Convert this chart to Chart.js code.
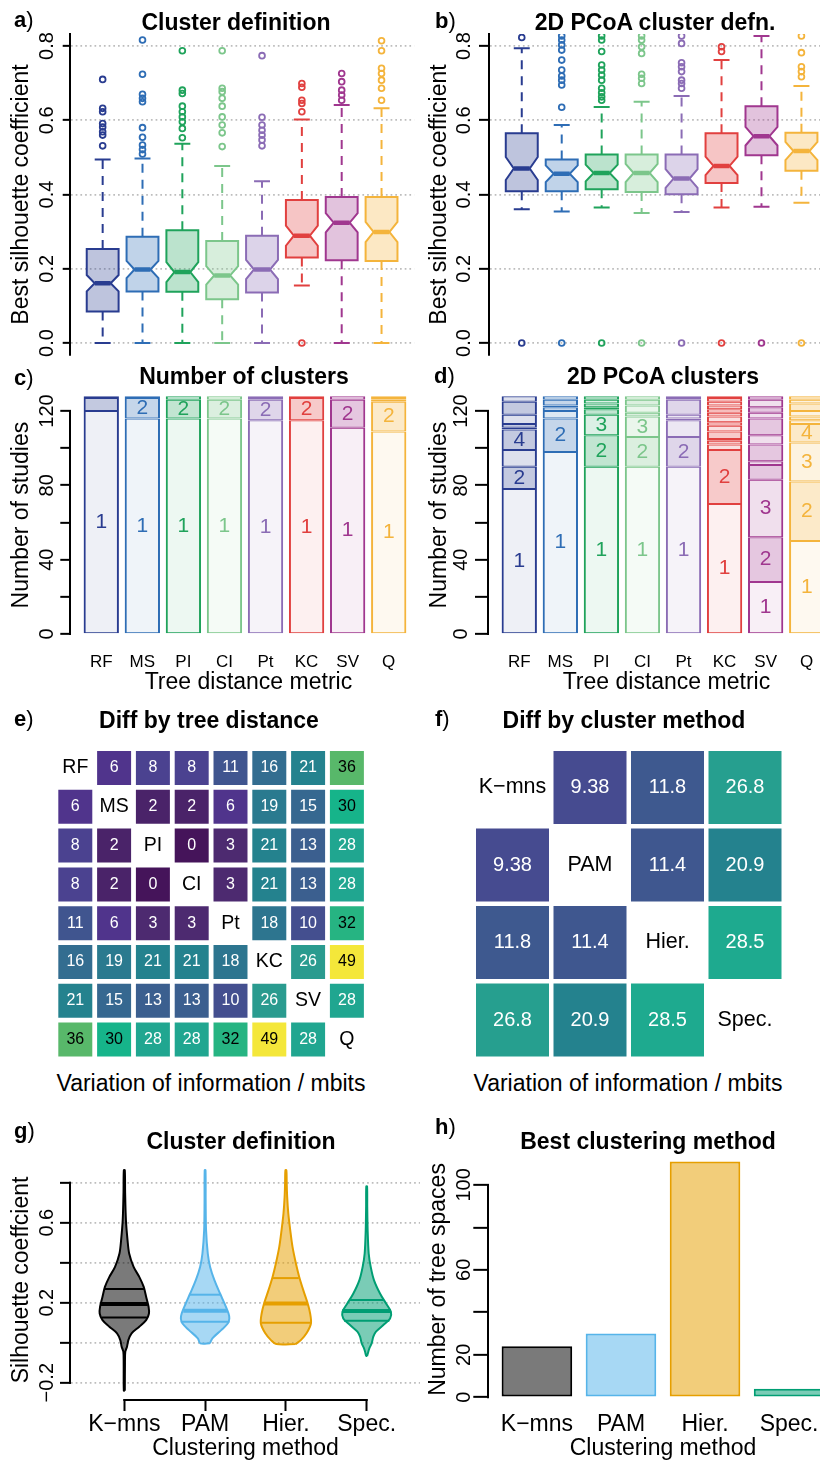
<!DOCTYPE html>
<html>
<head>
<meta charset="utf-8">
<script src="https://cdn.jsdelivr.net/npm/chart.js"></script>
<style>
  html, body { margin: 0; padding: 0; background: #fff; overflow: hidden; }
  #fig { position: relative; width: 820px; height: 1462px; overflow: hidden;
         font-family: 'Liberation Sans', Arial, sans-serif; color: #000; }
  #fig canvas { position: absolute; }
  .t { position: absolute; white-space: nowrap; line-height: 1; transform: translate(-50%, -50%); }
  .ttl { font-weight: bold; font-size: 23px; }
  .xt { font-size: 23px; }
  .lab { position: absolute; white-space: nowrap; line-height: 1; font-size: 22px; transform: translate(0, -50%); }
</style>
</head>
<body>
<div id="fig"></div>
<script>
// ---- categories & colours ----
const metrics = ['RF', 'MS', 'PI', 'CI', 'Pt', 'KC', 'SV', 'Q'];
const metricColours = ['#293c90', '#2e6db5', '#1fa35b', '#7cc68b', '#8b6cb5', '#e1403f', '#a0378f', '#f4b43c'];
const methods = ['K−mns', 'PAM', 'Hier.', 'Spec.'];
const methodColours = ['#000000', '#56b4e9', '#e69f00', '#009e73'];

// ---- a) cluster definition (boxplots) ----
const aTicks = [0, 0.2, 0.4, 0.6, 0.8];
const aLower = [0, 0, 0, 0, 0, 0.155, 0, 0];
const aQ1 = [0.085, 0.139, 0.138, 0.118, 0.136, 0.230, 0.223, 0.221];
const aMedian = [0.161, 0.198, 0.191, 0.182, 0.198, 0.289, 0.324, 0.299];
const aQ3 = [0.253, 0.286, 0.304, 0.275, 0.289, 0.385, 0.393, 0.393];
const aUpper = [0.494, 0.497, 0.537, 0.477, 0.436, 0.602, 0.641, 0.632];
const aNotch = [0.022, 0.023, 0.027, 0.025, 0.026, 0.027, 0.026, 0.027];
const aOutliers = [
  [0.531, 0.56, 0.569, 0.582, 0.591, 0.623, 0.632, 0.71],
  [0.509, 0.521, 0.533, 0.554, 0.58, 0.65, 0.659, 0.67, 0.724, 0.816],
  [0.553, 0.578, 0.596, 0.609, 0.623, 0.638, 0.672, 0.681, 0.787],
  [0.529, 0.566, 0.587, 0.609, 0.638, 0.659, 0.677, 0.686, 0.787],
  [0.531, 0.547, 0.56, 0.573, 0.587, 0.608, 0.774],
  [0, 0.623, 0.645, 0.654, 0.689, 0.699],
  [0.654, 0.668, 0.681, 0.704, 0.726],
  [0.654, 0.686, 0.708, 0.726, 0.74, 0.787, 0.814]
];

// ---- b) 2D PCoA cluster definition ----
const bLower = [0.360, 0.354, 0.365, 0.350, 0.353, 0.365, 0.367, 0.378];
const bQ1 = [0.409, 0.409, 0.414, 0.407, 0.401, 0.431, 0.506, 0.464];
const bMedian = [0.470, 0.456, 0.458, 0.458, 0.443, 0.477, 0.557, 0.517];
const bQ3 = [0.565, 0.494, 0.508, 0.508, 0.508, 0.565, 0.638, 0.566];
const bUpper = [0.794, 0.587, 0.636, 0.650, 0.665, 0.762, 0.827, 0.692];
const bNotch = [0.031, 0.0225, 0.0225, 0.0245, 0.025, 0.025, 0.025, 0.0245];
const bOutliers = [
  [0, 0.823],
  [0, 0.635, 0.695, 0.708, 0.719, 0.735, 0.762, 0.789, 0.803, 0.816, 0.827],
  [0, 0.654, 0.663, 0.674, 0.686, 0.708, 0.722, 0.735, 0.749, 0.785, 0.816, 0.827],
  [0, 0.699, 0.713, 0.724, 0.78, 0.798, 0.816, 0.827],
  [0, 0.686, 0.699, 0.708, 0.731, 0.744, 0.755, 0.807, 0.827],
  [0, 0.785, 0.798],
  [0],
  [0, 0.717, 0.731, 0.744, 0.782, 0.827]
];

// ---- c) / d) studies per number of clusters (bottom segment = 1 cluster) ----
const studyTicks = [0, 20, 40, 60, 80, 100, 120];
const studyLabelled = [0, 40, 80, 120];
const cCounts = [
  [120, 7, 1], [116, 11, 1], [116, 10, 2], [116, 10, 2],
  [115, 11, 1, 1], [115, 12, 1], [111, 15, 2], [109, 16, 1, 1, 1]
];
const dCounts = [
  [78, 12, 9, 11, 1, 2, 5, 7, 3],
  [98, 18, 4, 2, 1, 3, 2],
  [90, 17, 11, 3, 1, 2, 2, 2],
  [90, 16, 11, 2, 4, 3, 2],
  [90, 16, 9, 1, 2, 8, 1, 1],
  [70, 29, 3, 2, 1, 4, 3, 2, 3, 2, 2, 2, 2, 2, 1],
  [28, 24, 31, 8, 2, 9, 5, 9, 3, 3, 4, 2],
  [50, 32, 21, 10, 2, 2, 3, 4, 2, 2]
];
const minLabelled = 10;

// ---- e) / f) variation of information (mbits) ----
const eMatrix = [
  [null, 6, 8, 8, 11, 16, 21, 36],
  [6, null, 2, 2, 6, 19, 15, 30],
  [8, 2, null, 0, 3, 21, 13, 28],
  [8, 2, 0, null, 3, 21, 13, 28],
  [11, 6, 3, 3, null, 18, 10, 32],
  [16, 19, 21, 21, 18, null, 26, 49],
  [21, 15, 13, 13, 10, 26, null, 28],
  [36, 30, 28, 28, 32, 49, 28, null]
];
const fMatrix = [
  [null, 9.38, 11.8, 26.8],
  [9.38, null, 11.4, 20.9],
  [11.8, 11.4, null, 28.5],
  [26.8, 20.9, 28.5, null]
];

// ---- g) violins: outline heights and half-widths (category units) ----
const gTicks = [-0.2, 0, 0.2, 0.4, 0.6, 0.8];
const gLabelled = [-0.2, 0.2, 0.6];
const gViolinY = [
  [-0.24, -0.10, -0.045, -0.02, 0.013, 0.047, 0.08, 0.113, 0.146, 0.18, 0.23, 0.279, 0.329, 0.379, 0.446, 0.512, 0.612, 0.75, 0.862],
  [-0.003, 0.022, 0.063, 0.096, 0.121, 0.146, 0.196, 0.246, 0.313, 0.379, 0.446, 0.562, 0.70, 0.862],
  [-0.007, 0.013, 0.047, 0.096, 0.146, 0.196, 0.263, 0.329, 0.396, 0.479, 0.562, 0.645, 0.728, 0.80, 0.862],
  [-0.066, -0.045, -0.028, -0.003, 0.03, 0.055, 0.088, 0.121, 0.155, 0.196, 0.246, 0.313, 0.379, 0.446, 0.562, 0.68, 0.781]
];
const gViolinW = [
  [0.006, 0.008, 0.012, 0.033, 0.05, 0.09, 0.185, 0.27, 0.305, 0.30, 0.27, 0.24, 0.185, 0.115, 0.06, 0.04, 0.02, 0.01, 0.006],
  [0.06, 0.09, 0.2, 0.28, 0.30, 0.29, 0.24, 0.185, 0.115, 0.062, 0.033, 0.012, 0.007, 0.005],
  [0.12, 0.185, 0.255, 0.31, 0.30, 0.27, 0.215, 0.165, 0.124, 0.082, 0.054, 0.03, 0.016, 0.01, 0.006],
  [0.006, 0.02, 0.033, 0.062, 0.082, 0.115, 0.206, 0.29, 0.30, 0.24, 0.165, 0.09, 0.05, 0.025, 0.012, 0.007, 0.005]
];
const gQ1 = [0.126, 0.105, 0.10, 0.11];
const gQ1W = [0.28, 0.30, 0.305, 0.28];
const gMedian = [0.193, 0.16, 0.196, 0.158];
const gMedianW = [0.29, 0.27, 0.27, 0.30];
const gQ3 = [0.268, 0.24, 0.323, 0.213];
const gQ3W = [0.25, 0.19, 0.16, 0.206];

// ---- h) best clustering method ----
const hTicks = [0, 20, 40, 60, 80, 100];
const hLabelled = [0, 20, 60, 100];
const hCounts = [24, 30, 111, 4];

// colour stops for the heat maps (value -> rgb)
const heatStops = [
  [0, [69, 20, 90]], [3, [77, 42, 112]], [6, [80, 52, 140]], [8, [75, 66, 144]],
  [11, [64, 85, 143]], [13, [59, 95, 143]], [16, [51, 109, 144]], [21, [36, 130, 142]],
  [26, [42, 155, 143]], [28, [32, 166, 144]], [30, [22, 180, 138]], [32, [38, 180, 130]],
  [36, [88, 184, 106]], [49, [244, 231, 58]]
];

const FONT = "'Liberation Sans', Arial, sans-serif";
Chart.defaults.font.family = FONT;
Chart.defaults.color = '#000';
Chart.defaults.animation = false;
Chart.defaults.responsive = false;
Chart.defaults.events = [];
Chart.defaults.plugins.legend.display = false;
Chart.defaults.plugins.tooltip.enabled = false;

const fig = document.getElementById('fig');

function addCanvas(left, top, width, height) {
  const cv = document.createElement('canvas');
  cv.width = width;
  cv.height = height;
  Object.assign(cv.style, { left: left + 'px', top: top + 'px', width: width + 'px', height: height + 'px' });
  fig.appendChild(cv);
  return cv;
}

function addText(html, x, y, cls) {
  const d = document.createElement('div');
  d.className = cls;
  d.innerHTML = html;
  d.style.left = x + 'px';
  d.style.top = y + 'px';
  fig.appendChild(d);
}

function alpha(hex, a) {
  const n = parseInt(hex.slice(1), 16);
  return `rgba(${n >> 16}, ${(n >> 8) & 255}, ${n & 255}, ${a})`;
}

function heatColour(v) {
  let i = 0;
  while (i < heatStops.length - 2 && v > heatStops[i + 1][0]) i++;
  const [v0, c0] = heatStops[i];
  const [v1, c1] = heatStops[i + 1];
  const t = Math.min(1, Math.max(0, (v - v0) / (v1 - v0)));
  return 'rgb(' + c0.map((c, k) => Math.round(c + (c1[k] - c) * t)).join(',') + ')';
}

const near = (list, v) => list.some(s => Math.abs(s - v) < 1e-9);

// R-style left axis: rotated tick labels, optional dotted grid
function leftAxis(o) {
  return {
    type: 'linear', position: 'left', min: o.min, max: o.max,
    afterBuildTicks: s => { s.ticks = o.ticks.map(v => ({ value: v })); },
    afterFit: s => { s.width = o.width; },
    ticks: {
      autoSkip: false, minRotation: 90, maxRotation: 90, crossAlign: 'center',
      padding: o.pad, font: { size: 20 }, color: '#000',
      callback: v => (near(o.shown, v) ? o.fmt(v) : '')
    },
    grid: {
      display: true, drawOnChartArea: !!o.dots, drawTicks: true,
      tickLength: o.tickLen, tickWidth: 2, tickColor: '#000',
      color: '#bdbdbd', lineWidth: 1.7
    },
    border: { display: !!o.fullLine, width: 2, color: '#000', dash: [1.7, 3] },
    title: { display: true, text: o.title, font: { size: 23 }, padding: { top: o.titlePad, bottom: 0 } }
  };
}

function bottomAxis(o) {
  return {
    type: 'linear', position: 'bottom', min: o.min, max: o.max, offset: false,
    afterBuildTicks: s => { s.ticks = o.labels.map((_, i) => ({ value: i + o.first })); },
    afterFit: s => { s.height = o.height; },
    ticks: {
      autoSkip: false, minRotation: 0, maxRotation: 0, padding: o.pad,
      font: { size: o.size }, color: '#000', callback: (v, i) => o.labels[i]
    },
    grid: {
      display: !!o.tickLen, offset: false, drawOnChartArea: false, drawTicks: !!o.tickLen,
      tickLength: o.tickLen || 0, tickWidth: 2, tickColor: '#000'
    },
    border: { display: false },
    title: { display: true, text: o.title, font: { size: 23 }, padding: { top: 0, bottom: 0 } }
  };
}

// axis lines that run from first to last tick, as R draws them
function rAxisLines(yRange, xRange) {
  return {
    id: 'rAxisLines',
    afterDraw(chart) {
      const { ctx, chartArea: ca, scales: { x, y } } = chart;
      ctx.save();
      ctx.strokeStyle = '#000';
      ctx.lineWidth = 2;
      ctx.lineCap = 'square';
      ctx.beginPath();
      if (yRange) {
        ctx.moveTo(ca.left - 1, y.getPixelForValue(yRange[0]));
        ctx.lineTo(ca.left - 1, y.getPixelForValue(yRange[1]));
      }
      if (xRange) {
        ctx.moveTo(x.getPixelForValue(xRange[0]), ca.bottom + 1);
        ctx.lineTo(x.getPixelForValue(xRange[1]), ca.bottom + 1);
      }
      ctx.stroke();
      ctx.restore();
    }
  };
}

function notchedBoxes(s) {
  return {
    id: 'notchedBoxes',
    beforeDatasetsDraw(chart) {
      const { ctx, chartArea: ca, scales: { x, y } } = chart;
      const py = v => y.getPixelForValue(v);
      ctx.save();
      ctx.beginPath();
      ctx.rect(ca.left, ca.top, ca.right - ca.left, ca.bottom - ca.top);
      ctx.clip();
      s.median.forEach((med, i) => {
        const col = metricColours[i];
        const cx = x.getPixelForValue(i + 1);
        const hw = x.getPixelForValue(i + 1.4) - cx;
        ctx.strokeStyle = col;
        ctx.lineWidth = 2;
        // whiskers
        ctx.setLineDash([9, 7]);
        ctx.beginPath();
        ctx.moveTo(cx, py(s.q3[i])); ctx.lineTo(cx, py(s.upper[i]));
        ctx.moveTo(cx, py(s.q1[i])); ctx.lineTo(cx, py(s.lower[i]));
        ctx.stroke();
        ctx.setLineDash([]);
        ctx.beginPath();
        ctx.moveTo(cx - hw / 2, py(s.upper[i])); ctx.lineTo(cx + hw / 2, py(s.upper[i]));
        ctx.moveTo(cx - hw / 2, py(s.lower[i])); ctx.lineTo(cx + hw / 2, py(s.lower[i]));
        ctx.stroke();
        // notched box
        const lo = py(med - s.notch[i]), hi = py(med + s.notch[i]), m = py(med);
        ctx.beginPath();
        ctx.moveTo(cx - hw, py(s.q1[i]));
        ctx.lineTo(cx - hw, lo); ctx.lineTo(cx - hw / 2, m); ctx.lineTo(cx - hw, hi);
        ctx.lineTo(cx - hw, py(s.q3[i])); ctx.lineTo(cx + hw, py(s.q3[i]));
        ctx.lineTo(cx + hw, hi); ctx.lineTo(cx + hw / 2, m); ctx.lineTo(cx + hw, lo);
        ctx.lineTo(cx + hw, py(s.q1[i]));
        ctx.closePath();
        ctx.fillStyle = alpha(col, 0.3);
        ctx.fill();
        ctx.stroke();
        // median
        ctx.lineWidth = 4.5;
        ctx.beginPath();
        ctx.moveTo(cx - hw / 2, m); ctx.lineTo(cx + hw / 2, m);
        ctx.stroke();
      });
      ctx.restore();
    }
  };
}

function segmentLabels() {
  return {
    id: 'segmentLabels',
    afterDatasetsDraw(chart) {
      const ctx = chart.ctx;
      ctx.save();
      ctx.font = '21px ' + FONT;
      ctx.textAlign = 'center';
      ctx.textBaseline = 'middle';
      chart.data.datasets.forEach((ds, k) => {
        chart.getDatasetMeta(k).data.forEach((bar, j) => {
          const p = ds.data[j];
          if (p.y < minLabelled) return;
          ctx.fillStyle = metricColours[p.x];
          ctx.fillText(String(k + 1), bar.x, (bar.y + bar.base) / 2);
        });
      });
      ctx.restore();
    }
  };
}

function cellLabels(names, numSize, nameSize) {
  return {
    id: 'cellLabels',
    afterDatasetsDraw(chart) {
      const { ctx, scales: { x, y } } = chart;
      ctx.save();
      ctx.textAlign = 'center';
      ctx.textBaseline = 'middle';
      ctx.font = numSize + 'px ' + FONT;
      chart.data.datasets.forEach((ds, r) => {
        chart.getDatasetMeta(r).data.forEach((bar, j) => {
          const v = ds.data[j].v;
          ctx.fillStyle = v >= 29.5 ? '#000' : '#fff';
          ctx.fillText(String(v), bar.x, (bar.y + bar.base) / 2);
        });
      });
      ctx.font = nameSize + 'px ' + FONT;
      ctx.fillStyle = '#000';
      names.forEach((n, i) => ctx.fillText(n, x.getPixelForValue(i), y.getPixelForValue(i)));
      ctx.restore();
    }
  };
}

function outlierPoints(out) {
  return out.flatMap((vals, i) => vals.map(v => ({ x: i + 1, y: v })));
}

function boxPanel(canvas, stats, outliers, axis) {
  const pts = outlierPoints(outliers);
  return new Chart(canvas, {
    type: 'scatter',
    data: {
      datasets: [{
        data: pts, pointRadius: 2.9, pointBorderWidth: 1.8,
        pointBackgroundColor: 'rgba(0,0,0,0)',
        pointBorderColor: pts.map(p => metricColours[p.x - 1])
      }]
    },
    options: {
      devicePixelRatio: 1,
      layout: { padding: axis.padding },
      scales: {
        x: { type: 'linear', display: false, min: 0.18, max: 8.82 },
        y: leftAxis({
          min: -0.0323, max: 0.8323, ticks: aTicks, shown: aTicks, fmt: v => v.toFixed(1),
          width: 70, tickLen: axis.tickLen, pad: axis.pad, titlePad: axis.titlePad,
          title: 'Best silhouette coefficient', dots: true, fullLine: true
        })
      }
    },
    plugins: [notchedBoxes(stats)]
  });
}

function stackDatasets(counts) {
  const depth = Math.max(...counts.map(c => c.length));
  const sets = [];
  for (let k = 0; k < depth; k++) {
    const pts = [], bg = [], bd = [];
    counts.forEach((c, i) => {
      if (k >= c.length) return;
      pts.push({ x: i, y: c[k] });
      bg.push(alpha(metricColours[i], k === 0 ? 0.08 : (k % 2 ? 0.28 : 0.16)));
      bd.push(metricColours[i]);
    });
    sets.push({
      data: pts, backgroundColor: bg, borderColor: bd,
      borderWidth: { left: 2, right: 2, top: 1, bottom: 1 }, borderSkipped: false,
      barPercentage: 0.86, categoryPercentage: 1
    });
  }
  return sets;
}

function stackPanel(canvas, counts, axis) {
  return new Chart(canvas, {
    type: 'bar',
    data: { datasets: stackDatasets(counts) },
    options: {
      devicePixelRatio: 1,
      layout: { padding: { left: 0, top: 26.7, right: 4.2, bottom: 3.5 } },
      scales: {
        x: Object.assign(bottomAxis({
          min: -0.737, max: 7.903, labels: metrics, first: 0, height: 53, pad: 8.3, size: 17,
          title: 'Tree distance metric'
        }), { stacked: true }),
        y: Object.assign(leftAxis({
          min: -5.11, max: 133.08, ticks: studyTicks, shown: studyLabelled, fmt: v => String(v),
          width: 71, tickLen: axis.tickLen, pad: axis.pad, titlePad: axis.titlePad,
          title: 'Number of studies'
        }), { stacked: true })
      }
    },
    plugins: [segmentLabels(), rAxisLines([studyTicks[0], studyTicks[studyTicks.length - 1]])]
  });
}

function heatDatasets(matrix, frac) {
  return matrix.map((row, r) => {
    const pts = [];
    row.forEach((v, c) => { if (v !== null) pts.push({ x: c, y: [r - frac / 2, r + frac / 2], v }); });
    return {
      data: pts, backgroundColor: pts.map(p => heatColour(p.v)), borderWidth: 0,
      grouped: false, barPercentage: frac, categoryPercentage: 1
    };
  });
}

function heatPanel(canvas, matrix, names, frac, padding, numSize, nameSize) {
  const n = names.length;
  return new Chart(canvas, {
    type: 'bar',
    data: { datasets: heatDatasets(matrix, frac) },
    options: {
      devicePixelRatio: 1,
      layout: { padding },
      scales: {
        x: {
          type: 'linear', display: false, min: -0.5, max: n - 0.5, offset: false,
          afterBuildTicks: s => { s.ticks = names.map((_, i) => ({ value: i })); }
        },
        y: {
          type: 'linear', display: false, min: -0.5, max: n - 0.5, reverse: true,
          afterBuildTicks: s => { s.ticks = names.map((_, i) => ({ value: i })); }
        }
      }
    },
    plugins: [cellLabels(names, numSize, nameSize)]
  });
}

// ---------- a ----------
boxPanel(addCanvas(0, 0, 420, 380),
  { lower: aLower, q1: aQ1, median: aMedian, q3: aQ3, upper: aUpper, notch: aNotch },
  aOutliers, { padding: { left: 0, top: 34, right: 0, bottom: 25 }, tickLen: 7.3, pad: 1.2, titlePad: 7.9 });

// ---------- b ----------
boxPanel(addCanvas(419, 0, 421, 380),
  { lower: bLower, q1: bQ1, median: bMedian, q3: bQ3, upper: bUpper, notch: bNotch },
  bOutliers, { padding: { left: 0, top: 34, right: 1, bottom: 25 }, tickLen: 10, pad: 0.8, titlePad: 7.2 });

// ---------- c / d ----------
stackPanel(addCanvas(0, 360, 430, 340), cCounts, { tickLen: 10.7, pad: -3.4, titlePad: 7.9 });
stackPanel(addCanvas(418, 360, 430, 340), dCounts, { tickLen: 14, pad: -2.7, titlePad: 8.2 });

// ---------- e / f ----------
heatPanel(addCanvas(0, 740, 410, 320), eMatrix, metrics, 0.876,
  { left: 55.9, top: 8.6, right: 43.7, bottom: 1 }, 16, 19.5);
heatPanel(addCanvas(410, 740, 410, 320), fMatrix, methods, 0.942,
  { left: 63.75, top: 8.75, right: 36.25, bottom: 1.25 }, 20, 21.5);

// ---------- g ----------
function violinOutline(centre, ys, ws) {
  const right = ys.map((y, i) => ({ x: centre + ws[i], y }));
  const left = ys.map((y, i) => ({ x: centre - ws[i], y })).reverse();
  return [...right, ...left, right[0]];
}
const gSets = methods.map((m, i) => ({
  data: violinOutline(i + 1, gViolinY[i], gViolinW[i]),
  borderColor: methodColours[i], borderWidth: 2, backgroundColor: alpha(methodColours[i], 0.52),
  fill: 'shape', pointRadius: 0, tension: 0.3
}));
[[gQ1, gQ1W, 2], [gQ3, gQ3W, 2], [gMedian, gMedianW, 4]].forEach(([ys, ws, lw]) => {
  methods.forEach((m, i) => {
    gSets.push({
      data: [{ x: i + 1 - ws[i], y: ys[i] }, { x: i + 1 + ws[i], y: ys[i] }],
      borderColor: methodColours[i], borderWidth: lw, pointRadius: 0, fill: false
    });
  });
});
new Chart(addCanvas(0, 1140, 430, 322), {
  type: 'line',
  data: { datasets: gSets },
  options: {
    devicePixelRatio: 1,
    layout: { padding: { left: 0, top: 21, right: 10, bottom: 0 } },
    scales: {
      x: bottomAxis({
        min: 0.34, max: 4.66, labels: methods, first: 1, height: 63, pad: 0.2, size: 23,
        tickLen: 12, title: 'Clustering method'
      }),
      y: leftAxis({
        min: -0.2815, max: 0.9085, ticks: gTicks, shown: gLabelled,
        fmt: v => (v < 0 ? '−' : '') + Math.abs(v).toFixed(1),
        width: 71, tickLen: 11, pad: -7, titlePad: 7.9, title: 'Silhouette coeffcient', dots: true
      })
    }
  },
  plugins: [rAxisLines([gTicks[0], gTicks[gTicks.length - 1]], [1, methods.length])]
});

// ---------- h ----------
new Chart(addCanvas(410, 1140, 430, 322), {
  type: 'bar',
  data: {
    datasets: [{
      data: hCounts.map((v, i) => ({ x: i, y: v })),
      backgroundColor: methodColours.map(c => alpha(c, 0.52)), borderColor: methodColours,
      borderWidth: 2, borderSkipped: false, barPercentage: 0.84, categoryPercentage: 1
    }]
  },
  options: {
    devicePixelRatio: 1,
    layout: { padding: { left: 0, top: 12.2, right: 3, bottom: 0 } },
    scales: {
      x: bottomAxis({
        min: -0.57, max: 3.57, labels: methods, first: 0, height: 55.3, pad: 4.5, size: 23,
        title: 'Clustering method'
      }),
      y: leftAxis({
        min: -4.43, max: 115.4, ticks: hTicks, shown: hLabelled, fmt: v => String(v),
        width: 79, tickLen: 15.7, pad: -7.4, titlePad: 14.5, title: 'Number of tree spaces'
      })
    }
  },
  plugins: [rAxisLines([hTicks[0], hTicks[hTicks.length - 1]])]
});

// ---------- panel letters, titles, captions ----------
[
  ['a', 14, 19.8], ['b', 435, 20.8], ['c', 14, 378.1], ['d', 434, 376.4],
  ['e', 14, 718.9], ['f', 435, 718.9], ['g', 14, 1131.4], ['h', 435, 1127]
].forEach(([l, x, y]) => addText('<b>' + l + '</b>)', x, y, 'lab'));

[
  ['Cluster definition', 236, 21.5], ['2D PCoA cluster defn.', 655, 21.5],
  ['Number of clusters', 244, 376], ['2D PCoA clusters', 663, 376],
  ['Diff by tree distance', 209, 720], ['Diff by cluster method', 624, 720],
  ['Cluster definition', 241, 1141], ['Best clustering method', 648, 1141]
].forEach(([s, x, y]) => addText(s, x, y, 't ttl'));

addText('Variation of information / mbits', 211, 1083, 't xt');
addText('Variation of information / mbits', 628, 1083, 't xt');
</script>
</body>
</html>
